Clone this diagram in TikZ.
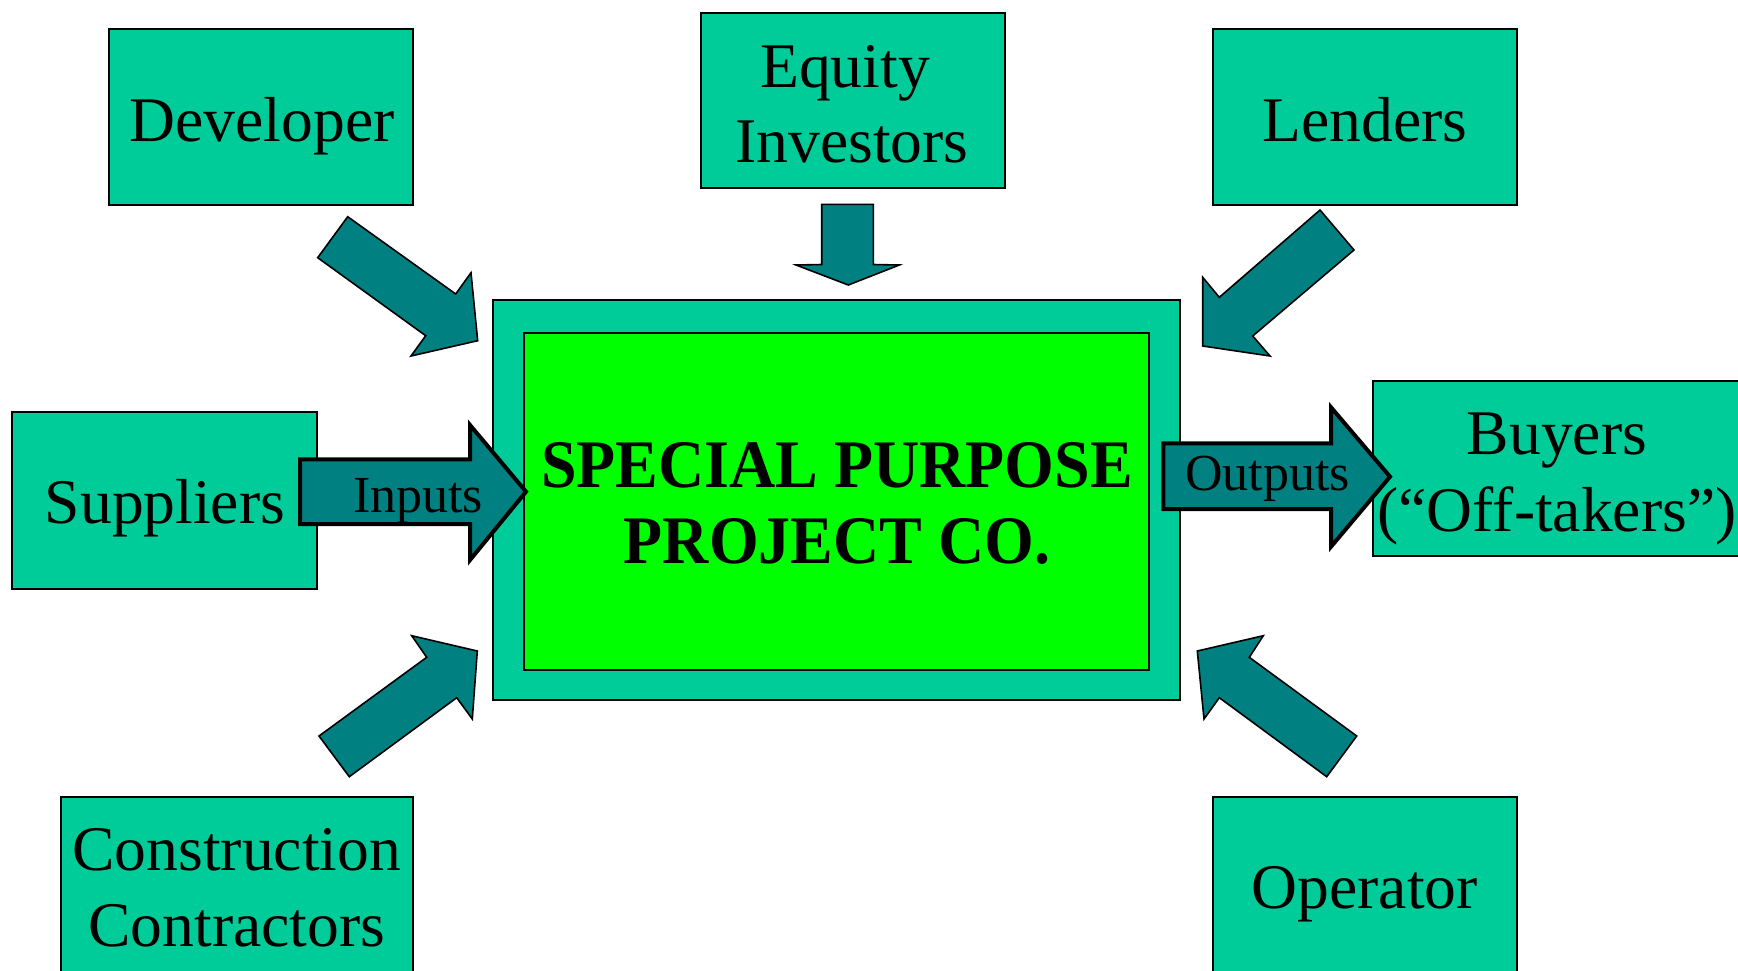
\documentclass[tikz,border=0pt]{standalone}
\usepackage{fontspec}
\setmainfont{Liberation Serif}
\definecolor{boxgreen}{RGB}{0,204,153}
\definecolor{arrowteal}{RGB}{0,128,128}
\definecolor{spvgreen}{RGB}{0,255,0}
\begin{document}
\begin{tikzpicture}[x=0.5pt,y=-0.5pt,
  partybox/.style={draw=black, line width=1pt, fill=boxgreen, inner sep=0pt},
  partytext/.style={font=\fontsize{31.8}{38}\selectfont, inner sep=0pt, anchor=base},
  blockarrow/.style={draw=black, line width=0.8pt, fill=arrowteal, line join=miter},
  flowarrow/.style={draw=black, line width=2pt, fill=arrowteal, line join=miter},
  flowtext/.style={font=\fontsize{26}{30}\selectfont, inner sep=0pt, anchor=base},
  spvtextsty/.style={font=\fontsize{34}{37.65}\selectfont\bfseries, inner sep=0pt}]
\clip (0,0) rectangle (1738,970);
\fill[white] (0,0) rectangle (1738,970);

% party boxes
\node[partybox, minimum width=152.4pt, minimum height=88.2pt] (dev) at (261,117) {};
\node[partybox, minimum width=152pt, minimum height=87.5pt] (eq) at (853,100.8) {};
\node[partybox, minimum width=152.2pt, minimum height=88.2pt] (len) at (1365,117) {};
\node[partybox, minimum width=152.4pt, minimum height=88.2pt] (sup) at (164.6,500.5) {};
\node[partybox, minimum width=186pt, minimum height=87.5pt] (buy) at (1558.7,468.5) {};
\node[partybox, minimum width=176pt, minimum height=88.2pt] (con) at (236.7,884.9) {};
\node[partybox, minimum width=152pt, minimum height=88.2pt] (op) at (1364.7,884.9) {};

\node[partytext] (devt) at (262,141) {Developer};
\node[partytext] (eqt1) at (845,87.5) {Equity};
\node[partytext] (eqt2) at (852,162) {Investors};
\node[partytext] (lent) at (1365,141) {Lenders};
\node[partytext] (supt) at (165,523) {Suppliers};
\node[partytext] (buyt1) at (1557,454) {Buyers};
\node[partytext] (buyt2) at (1557,531) {(“Off-takers”)};
\node[partytext] (cont1) at (236.7,870) {Construction};
\node[partytext] (cont2) at (236.7,946) {Contractors};
\node[partytext] (opt) at (1364.7,908) {Operator};

% special purpose project company
\node[partybox, minimum width=343.6pt, minimum height=200pt] (spvouter) at (836.8,500.45) {};
\node[draw=black, line width=1pt, fill=spvgreen, inner sep=0pt, minimum width=312.55pt, minimum height=168.5pt] (spv) at (836.85,501) {};
\node[spvtextsty] (spvt) at (837,510.3) {\scalebox{0.94}[1]{\begin{tabular}{@{}c@{}}SPECIAL PURPOSE\\PROJECT CO.\end{tabular}}};

% block arrows
\draw[blockarrow] (347.7,216.7) -- (317.7,257.7) -- (425.7,335.7) -- (411,356) -- (477.7,340.7) -- (471,272.7) -- (455.7,294) -- cycle;
\draw[blockarrow] (821.7,204.3) -- (873.3,204.3) -- (873.3,264.5) -- (899.3,265) -- (848.3,285) -- (796,265) -- (821.7,264.5) -- cycle;
\draw[blockarrow] (1320,210) -- (1354,250) -- (1252.7,336) -- (1270,356) -- (1202.7,346) -- (1202.7,277.3) -- (1219.3,297.3) -- cycle;
\draw[blockarrow] (349.3,776.7) -- (319,736) -- (426.7,657.3) -- (411.7,635.7) -- (477.3,651) -- (472.3,719) -- (456.7,697.7) -- cycle;
\draw[blockarrow] (1326.7,776.7) -- (1356.7,736) -- (1249.3,657.3) -- (1263.3,635.7) -- (1197.3,651) -- (1204,719) -- (1219.3,697.7) -- cycle;

% inputs / outputs
\draw[flowarrow] (300,459.3) -- (470,459.3) -- (470,425) -- (526,491.7) -- (470,560) -- (470,524) -- (300,524) -- cycle;
\node[flowtext] (inpt) at (418,512) {Inputs};
\draw[flowarrow] (1163.3,443.3) -- (1331,443.3) -- (1331,407.3) -- (1390,476.7) -- (1331,546.7) -- (1331,509) -- (1163.3,509) -- cycle;
\node[flowtext] (outt) at (1267.5,490) {Outputs};
\end{tikzpicture}
\end{document}
